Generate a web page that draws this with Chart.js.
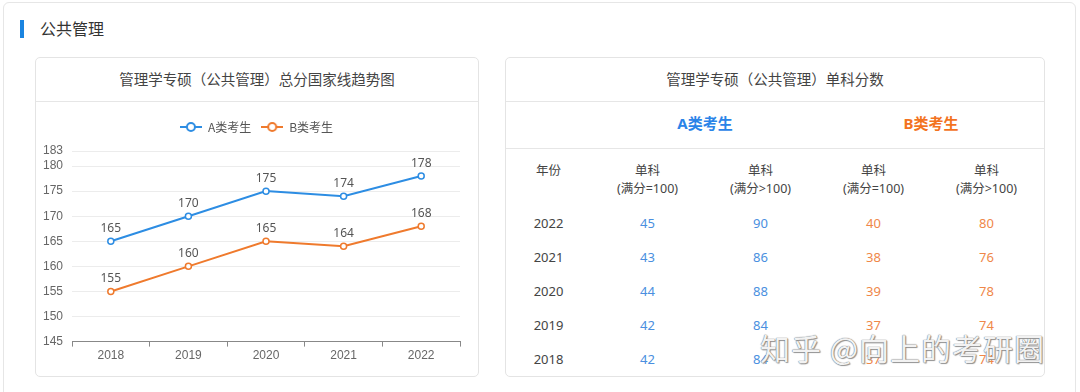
<!DOCTYPE html>
<html>
<head>
<meta charset="utf-8">
<script src="https://cdn.jsdelivr.net/npm/chart.js@4.4.1/dist/chart.umd.min.js"></script>
<style>
    body { margin: 0; background: #fff; font-family: 'Noto Sans', 'Noto Sans CJK SC', sans-serif; }
    .page { position: relative; width: 1080px; height: 392px; overflow: hidden; }
    .card { position: absolute; left: 3px; top: 2px; width: 1071px; height: 400px; border: 1px solid #e6e6e6; border-radius: 6px; background: #fff; }
    .section-bar { position: absolute; left: 20px; top: 20px; width: 4px; height: 18px; background: #1a84e0; }
    .section-title { position: absolute; left: 40px; top: 18px; font-size: 16px; color: #333; line-height: 22px; }
    .panel { position: absolute; top: 57px; height: 318px; border: 1px solid #e4e4e4; border-radius: 5px; background: #fff; }
    .panel-head { height: 43px; line-height: 43px; text-align: center; font-size: 14.5px; color: #444; border-bottom: 1px solid #e6e6e6; }
    .chart-box { position: absolute; left: 0; top: 45px; width: 441px; height: 272px; }
    .group-head { position: absolute; top: 45px; left: 0; width: 100%; height: 45px; border-bottom: 1px solid #e6e6e6; }
    .group-head span { position: absolute; top: 0; line-height: 41px; font-size: 15px; font-weight: bold; transform: translateX(-50%); }
    table { position: absolute; top: 91px; left: 0; border-collapse: collapse; table-layout: fixed; font-size: 13px; }
    td, th { text-align: center; padding: 0; font-weight: normal; }
    th { height: 44px; vertical-align: top; padding-top: 13px; color: #444; line-height: 18px; font-size: 12.5px; }
    td { height: 34px; }
    .yr { color: #444; }
    .ca { color: #4a8fe0; }
    .cb { color: #ef8748; }
    .mark { position: absolute; left: 760px; top: 325px; font-size: 30px; color: rgba(255,255,255,0.92); letter-spacing: 1px;
            text-shadow: 0 0 1px #777, 0 0 1px #777, 1px 1px 1px #999; font-family: 'Noto Sans CJK SC', sans-serif; }
</style>
</head>
<body>
<div class="page">
    <div class="card"></div>
    <div class="section-bar"></div>
    <div class="section-title">公共管理</div>

    <div class="panel" style="left:35px; width:442px;">
        <div class="panel-head">管理学专硕（公共管理）总分国家线趋势图</div>
        <div class="chart-box"><canvas id="lineChart"></canvas></div>
    </div>

    <div class="panel" style="left:505px; width:538px;">
        <div class="panel-head">管理学专硕（公共管理）单科分数</div>
        <div class="group-head">
            <span style="left:199px; color:#2a84e8;">A类考生</span>
            <span style="left:425px; color:#f3731f;">B类考生</span>
        </div>
        <table id="scoreTable">
            <colgroup><col style="width:85px"><col style="width:113px"><col style="width:113px"><col style="width:113px"><col style="width:113px"></colgroup>
            <thead></thead>
            <tbody></tbody>
        </table>
    </div>

    <div class="mark">知乎 @向上的考研圈</div>
</div>

<script>
// total score line chart data
const years = ['2018', '2019', '2020', '2021', '2022'];
const totalA = [165, 170, 175, 174, 178];
const totalB = [155, 160, 165, 164, 168];
const yTicks = [145, 150, 155, 160, 165, 170, 175, 180, 183];

// single subject table data (newest first)
const tableYears = ['2022', '2021', '2020', '2019', '2018'];
const aSingle100 = [45, 43, 44, 42, 42];
const aSingleOver = [90, 86, 88, 84, 84];
const bSingle100 = [40, 38, 39, 37, 37];
const bSingleOver = [80, 76, 78, 74, 74];
const tableHead = ['年份', '单科<br>(满分=100)', '单科<br>(满分>100)', '单科<br>(满分=100)', '单科<br>(满分>100)'];

const blue = '#2d8de3';
const orange = '#ef7a2d';

//********************************************************************************
///Table
//********************************************************************************
const table = document.getElementById('scoreTable');
table.querySelector('thead').innerHTML = '<tr>' + tableHead.map(h => `<th>${h}</th>`).join('') + '</tr>';
table.querySelector('tbody').innerHTML = tableYears.map((yr, i) =>
    `<tr>
        <td class="yr">${yr}</td>
        <td class="ca">${aSingle100[i]}</td>
        <td class="ca">${aSingleOver[i]}</td>
        <td class="cb">${bSingle100[i]}</td>
        <td class="cb">${bSingleOver[i]}</td>
    </tr>`).join('');

//********************************************************************************
///Line chart
//********************************************************************************
// legend icon: line with a hollow circle in the middle
function legendIcon(color) {
    const c = document.createElement('canvas');
    c.width = 22;
    c.height = 12;
    const g = c.getContext('2d');
    g.strokeStyle = color;
    g.lineWidth = 2;
    g.beginPath();
    g.moveTo(0, 6);
    g.lineTo(22, 6);
    g.stroke();
    g.beginPath();
    g.arc(11, 6, 4, 0, Math.PI * 2);
    g.fillStyle = '#fff';
    g.fill();
    g.stroke();
    return c;
}

const valueLabels = {
    id: 'valueLabels',
    afterDatasetsDraw(chart) {
        const ctx = chart.ctx;
        ctx.save();
        ctx.font = '12px "Noto Sans", sans-serif';
        ctx.fillStyle = '#555';
        ctx.textAlign = 'center';
        ctx.textBaseline = 'middle';
        chart.data.datasets.forEach((ds, i) => {
            chart.getDatasetMeta(i).data.forEach((pt, j) => {
                ctx.fillText(ds.data[j], pt.x, pt.y - 13);
            });
        });
        ctx.restore();
    }
};

// extra room under the legend
const legendGap = {
    id: 'legendGap',
    beforeInit(chart) {
        const fit = chart.legend.fit;
        chart.legend.fit = function () {
            fit.bind(chart.legend)();
            this.height += 8;
        };
    }
};

const lineChart = new Chart(document.getElementById('lineChart'), {
    type: 'line',
    data: {
        labels: years,
        datasets: [
            { label: 'A类考生', data: totalA, borderColor: blue, backgroundColor: '#fff', borderWidth: 2,
              pointRadius: 3, pointBorderWidth: 1.5, pointBackgroundColor: '#fff', pointStyle: 'circle', tension: 0 },
            { label: 'B类考生', data: totalB, borderColor: orange, backgroundColor: '#fff', borderWidth: 2,
              pointRadius: 3, pointBorderWidth: 1.5, pointBackgroundColor: '#fff', pointStyle: 'circle', tension: 0 }
        ]
    },
    options: {
        responsive: true,
        maintainAspectRatio: false,
        animation: false,
        layout: { padding: { top: 8, right: 0, left: 0, bottom: 10 } },
        plugins: {
            tooltip: { enabled: false },
            legend: {
                position: 'top',
                labels: {
                    usePointStyle: true,
                    pointStyleWidth: 22,
                    padding: 10,
                    color: '#555',
                    font: { size: 12, family: "'Noto Sans CJK SC', sans-serif" },
                    generateLabels(chart) {
                        return chart.data.datasets.map((ds, i) => ({
                            text: ds.label,
                            pointStyle: legendIcon(ds.borderColor),
                            fillStyle: '#fff',
                            strokeStyle: ds.borderColor,
                            lineWidth: 0,
                            fontColor: '#555',
                            datasetIndex: i,
                            hidden: false
                        }));
                    }
                }
            }
        },
        scales: {
            x: {
                offset: true,
                grid: { offset: true, drawOnChartArea: false, drawTicks: true, tickLength: 5, color: '#888' },
                border: { display: true, color: '#888' },
                ticks: { color: '#666', padding: 2, font: { size: 12 } }
            },
            y: {
                min: 145,
                max: 183,
                afterBuildTicks: (scale) => { scale.ticks = yTicks.map(v => ({ value: v })); },
                afterFit: (scale) => { scale.width = 36; },
                grid: { color: '#ececec', drawTicks: false },
                border: { display: false },
                ticks: { color: '#666', padding: 9, font: { size: 12 } }
            },
            // empty right axis, only keeps the plot off the right edge
            yRight: {
                position: 'right',
                afterFit: (scale) => { scale.width = 17; },
                grid: { display: false },
                border: { display: false },
                ticks: { display: false }
            }
        }
    },
    plugins: [valueLabels, legendGap]
});
</script>
</body>
</html>
